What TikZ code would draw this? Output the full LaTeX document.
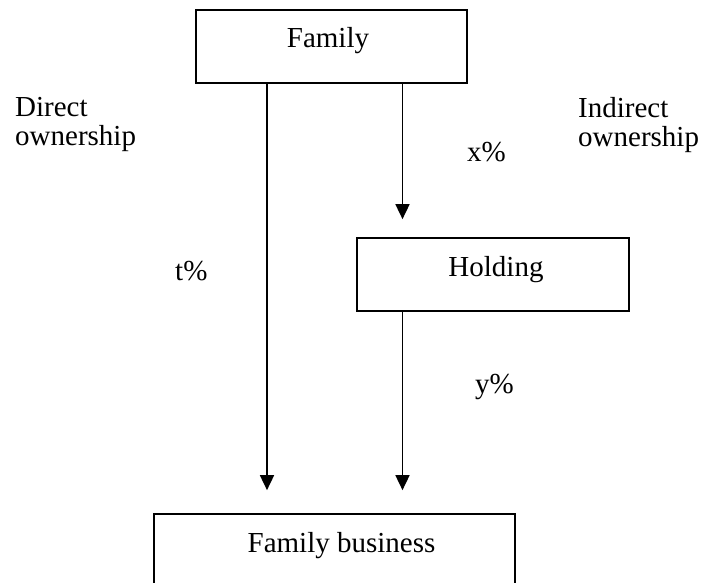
\documentclass[tikz,border=0pt]{standalone}
\usepackage{fontspec}
\setmainfont{Liberation Serif}
\usetikzlibrary{arrows.meta}
\begin{document}
\begin{tikzpicture}[x=1pt,y=-1pt,
  box/.style={draw,line width=1.7pt,inner sep=0pt},
  txt/.style={inner sep=0pt,font=\fontsize{29}{29}\selectfont},
  arr/.style={line width=1.7pt,-{Triangle[length=15pt,width=14pt]}}]
\useasboundingbox (0,0) rectangle (707,583);

\node[box,minimum width=271pt,minimum height=73pt] (family) at (331.5,46.5) {};
\node[box,minimum width=272pt,minimum height=73pt] (holding) at (493,274.5) {};
\node[box,minimum width=361pt,minimum height=120pt] (business) at (334.5,574) {};

\node[txt,anchor=base] (familytext) at (328,48) {Family};
\node[txt,anchor=base] (holdingtext) at (496,276) {Holding};
\node[txt,anchor=base] (businesstext) at (341.5,552) {Family business};

\node[txt,anchor=north west,align=left] (direct) at (15,97) {Direct\\ownership};
\node[txt,anchor=north west,align=left] (indirect) at (578,97) {Indirect\\ownership};

\coordinate (lx) at (267,0);
\coordinate (rx) at (402.5,0);
\draw[arr,shorten >=23pt] (family.south -| lx) -- (business.north -| lx);
\draw[arr,shorten >=18pt] (family.south -| rx) -- (holding.north -| rx);
\draw[arr,shorten >=23pt] (holding.south -| rx) -- (business.north -| rx);

\node[txt,anchor=base west] (xpct) at (467,162) {x\%};
\node[txt,anchor=base west] (tpct) at (175,280) {t\%};
\node[txt,anchor=base west] (ypct) at (475,393) {y\%};
\end{tikzpicture}
\end{document}
